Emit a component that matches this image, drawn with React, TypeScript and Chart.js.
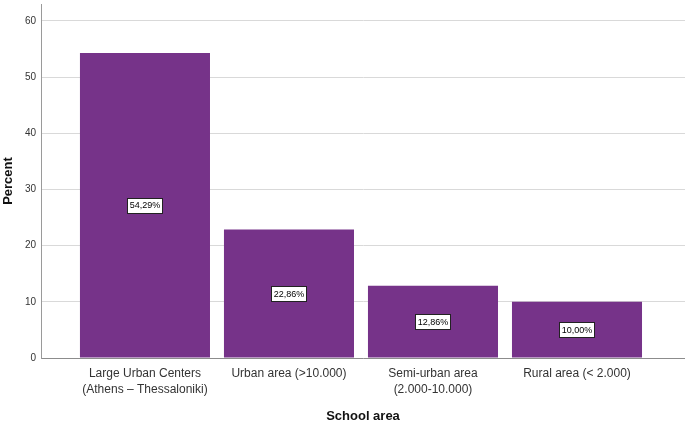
import React, { useEffect, useRef } from "react";
import { Chart, registerables } from "chart.js";

Chart.register(...registerables);

const categories: string[][] = [
  ["Large Urban Centers", "(Athens – Thessaloniki)"],
  ["Urban area (>10.000)"],
  ["Semi-urban area", "(2.000-10.000)"],
  ["Rural area (< 2.000)"],
];
const percents: number[] = [54.29, 22.86, 12.86, 10.0];
const yTicks: number[] = [0, 10, 20, 30, 40, 50, 60];

const FONT = "'Liberation Sans', Arial, sans-serif";
const BAR_COLOR = "#763389";

const valueLabels = {
  id: "valueLabels",
  afterDatasetsDraw(chart: any) {
    const ctx = chart.ctx;
    const meta = chart.getDatasetMeta(0);
    ctx.save();
    ctx.font = `9px ${FONT}`;
    ctx.textAlign = "center";
    ctx.textBaseline = "middle";
    meta.data.forEach((bar: any, i: number) => {
      const text = percents[i].toFixed(2).replace(".", ",") + "%";
      const cx = bar.x;
      const cy = (bar.y + bar.base) / 2;
      const w = Math.ceil(ctx.measureText(text).width) + 4;
      const h = 15;
      const x0 = Math.round(cx - w / 2) + 0.5;
      const y0 = Math.round(cy - h / 2) + 0.5;
      ctx.fillStyle = "#ffffff";
      ctx.fillRect(x0, y0, w, h);
      ctx.strokeStyle = "#222222";
      ctx.lineWidth = 1;
      ctx.strokeRect(x0, y0, w, h);
      ctx.fillStyle = "#000000";
      ctx.fillText(text, cx, cy + 0.5);
    });
    ctx.restore();
  },
};

export default function App() {
  const ref = useRef<HTMLCanvasElement | null>(null);

  useEffect(() => {
    if (!ref.current) return;
    const chart = new Chart(ref.current, {
      type: "bar",
      data: {
        datasets: [
          {
            data: percents.map((v, i) => ({ x: i, y: v })),
            backgroundColor: BAR_COLOR,
            borderWidth: 0,
            barPercentage: 0.903,
            categoryPercentage: 1,
          },
        ],
      },
      options: {
        animation: false,
        responsive: true,
        maintainAspectRatio: false,
        layout: { padding: { top: 4, right: 0, left: 0, bottom: 0 } },
        plugins: {
          legend: { display: false },
          tooltip: { enabled: false },
        },
        scales: {
          x: {
            type: "linear",
            offset: false,
            min: -0.722,
            max: 3.75,
            afterBuildTicks: (scale: any) => {
              scale.ticks = categories.map((_, i) => ({ value: i }));
            },
            afterFit: (scale: any) => {
              scale.height = 69;
              scale.paddingLeft = 0;
              scale.paddingRight = 0;
            },
            grid: { display: false, drawTicks: false },
            border: { display: true, color: "#8c8c8c", width: 1 },
            ticks: {
              padding: 8,
              autoSkip: false,
              maxRotation: 0,
              color: "#333333",
              font: { family: FONT, size: 12, lineHeight: 1.3 },
              callback: (v: any) => categories[v as number] ?? "",
            },
            title: {
              display: true,
              text: "School area",
              color: "#111111",
              font: { family: FONT, size: 13, weight: "bold" },
              padding: { top: 0, bottom: 3 },
            },
          },
          y: {
            min: 0,
            max: 63,
            afterBuildTicks: (scale: any) => {
              scale.ticks = yTicks.map((v) => ({ value: v }));
            },
            afterFit: (scale: any) => {
              scale.width = 41;
              scale.paddingTop = 0;
              scale.paddingBottom = 0;
            },
            grid: { color: "#d9d9d9", drawTicks: false, lineWidth: 1 },
            border: { display: true, color: "#9a9a9a", width: 1 },
            ticks: {
              padding: 5,
              color: "#333333",
              font: { family: FONT, size: 10 },
            },
            title: {
              display: true,
              text: "Percent",
              color: "#111111",
              font: { family: FONT, size: 13, weight: "bold" },
              padding: { top: 1, bottom: 0 },
            },
          },
        },
      },
      plugins: [valueLabels],
    });
    return () => chart.destroy();
  }, []);

  return (
    <div style={{ position: "fixed", left: 0, top: 0, width: 685, height: 427, background: "#ffffff" }}>
      <canvas ref={ref} />
    </div>
  );
}
